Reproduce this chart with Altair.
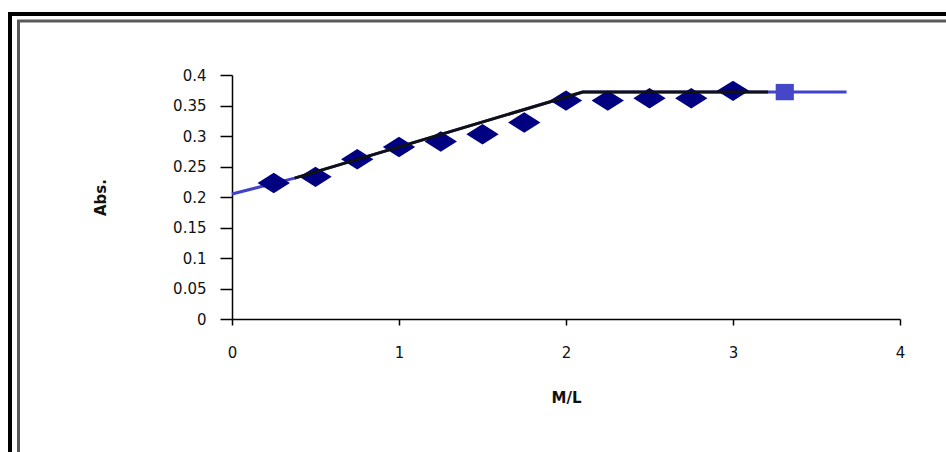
import altair as alt
import pandas as pd

# Measured absorbance against metal/ligand mole ratio
ratio = [0.25, 0.5, 0.75, 1.0, 1.25, 1.5, 1.75, 2.0, 2.25, 2.5, 2.75, 3.0]
absorb = [0.223, 0.233, 0.262, 0.282, 0.291, 0.303, 0.322, 0.358, 0.358, 0.362, 0.362, 0.374]

# Extrapolated (blue) line and fitted (black) break line
blue_x = [0.0, 0.375, 2.1, 3.68]
blue_y = [0.205, 0.231, 0.372, 0.372]
fit_x = [0.375, 2.1, 3.21]
fit_y = [0.231, 0.372, 0.372]
end_x = [3.31]
end_y = [0.372]

y_ticks = [0, 0.05, 0.1, 0.15, 0.2, 0.25, 0.3, 0.35, 0.4]
x_ticks = [0, 1, 2, 3, 4]

W, H = 668, 244
PAD = {"left": 232, "top": 75, "right": 46, "bottom": 133}
FONT = "DejaVu Sans"

points = pd.DataFrame({"x": ratio, "y": absorb})
blue = pd.DataFrame({"x": blue_x, "y": blue_y})
fit = pd.DataFrame({"x": fit_x, "y": fit_y})
end = pd.DataFrame({"x": end_x, "y": end_y})

xs = alt.Scale(domain=[0, 4], nice=False, zero=False)
ys = alt.Scale(domain=[0, 0.4], nice=False)

x_axis = alt.Axis(values=x_ticks, format="d", title="M/L", grid=False,
                  tickSize=6, labelPadding=20, labelOverlap=False, labelFlush=False,
                  titleY=78, titleBaseline="middle")
y_axis = alt.Axis(values=y_ticks, format="~g", title="Abs.", grid=False,
                  tickSize=12, labelPadding=14, labelOverlap=False, labelFlush=False,
                  tickCount=9, titleX=-132, titleY=H / 2, titleBaseline="middle",
                  titleAngle=-90)

# Every layer shares the same positional encodings so the axes stay identical
enc_x = alt.X("x:Q", scale=xs, axis=x_axis)
enc_y = alt.Y("y:Q", scale=ys, axis=y_axis)

blue_line = alt.Chart(blue).mark_line(color="#4242CC", strokeWidth=3).encode(
    x=enc_x, y=enc_y)

diamond_path = "M -1 0 L 0 -0.63 L 1 0 L 0 0.63 Z"
diamonds = alt.Chart(points).mark_point(
    shape=diamond_path, filled=True, color="#000080", opacity=1, size=1050
).encode(x=enc_x, y=enc_y)

fit_line = alt.Chart(fit).mark_line(color="#111111", strokeWidth=3).encode(
    x=enc_x, y=enc_y)

square_path = "M -1 -0.9 L 1 -0.9 L 1 0.9 L -1 0.9 Z"
end_mark = alt.Chart(end).mark_point(
    shape=square_path, filled=True, color="#4646C8", opacity=1, size=330
).encode(x=enc_x, y=enc_y)

# Double frame around the chart
frame_data = alt.Data(values=[{"k": 1}])
outer = alt.Chart(frame_data).mark_rect(
    filled=False, fillOpacity=0, stroke="#000000", strokeWidth=4, clip=False
).encode(x=alt.value(-222), x2=alt.value(740), y=alt.value(-61), y2=alt.value(400))
inner = alt.Chart(frame_data).mark_rect(
    filled=False, fillOpacity=0, stroke="#5a5a5a", strokeWidth=3, clip=False
).encode(x=alt.value(-213.5), x2=alt.value(740), y=alt.value(-54), y2=alt.value(400))

chart = alt.layer(blue_line, diamonds, fit_line, end_mark, outer, inner).properties(
    width=W, height=H, padding=PAD, autosize=alt.AutoSizeParams(type="none"),
    background="white"
).configure_view(strokeWidth=0).configure_axis(
    domainColor="#000000", domainWidth=1.5, tickColor="#000000", tickWidth=1.5,
    labelFont=FONT, labelFontSize=15, labelColor="#111111",
    titleFont=FONT, titleFontSize=15, titleFontWeight="bold", titleColor="#111111"
)

chart.save("out.html", embed_options={"renderer": "svg", "actions": False})
